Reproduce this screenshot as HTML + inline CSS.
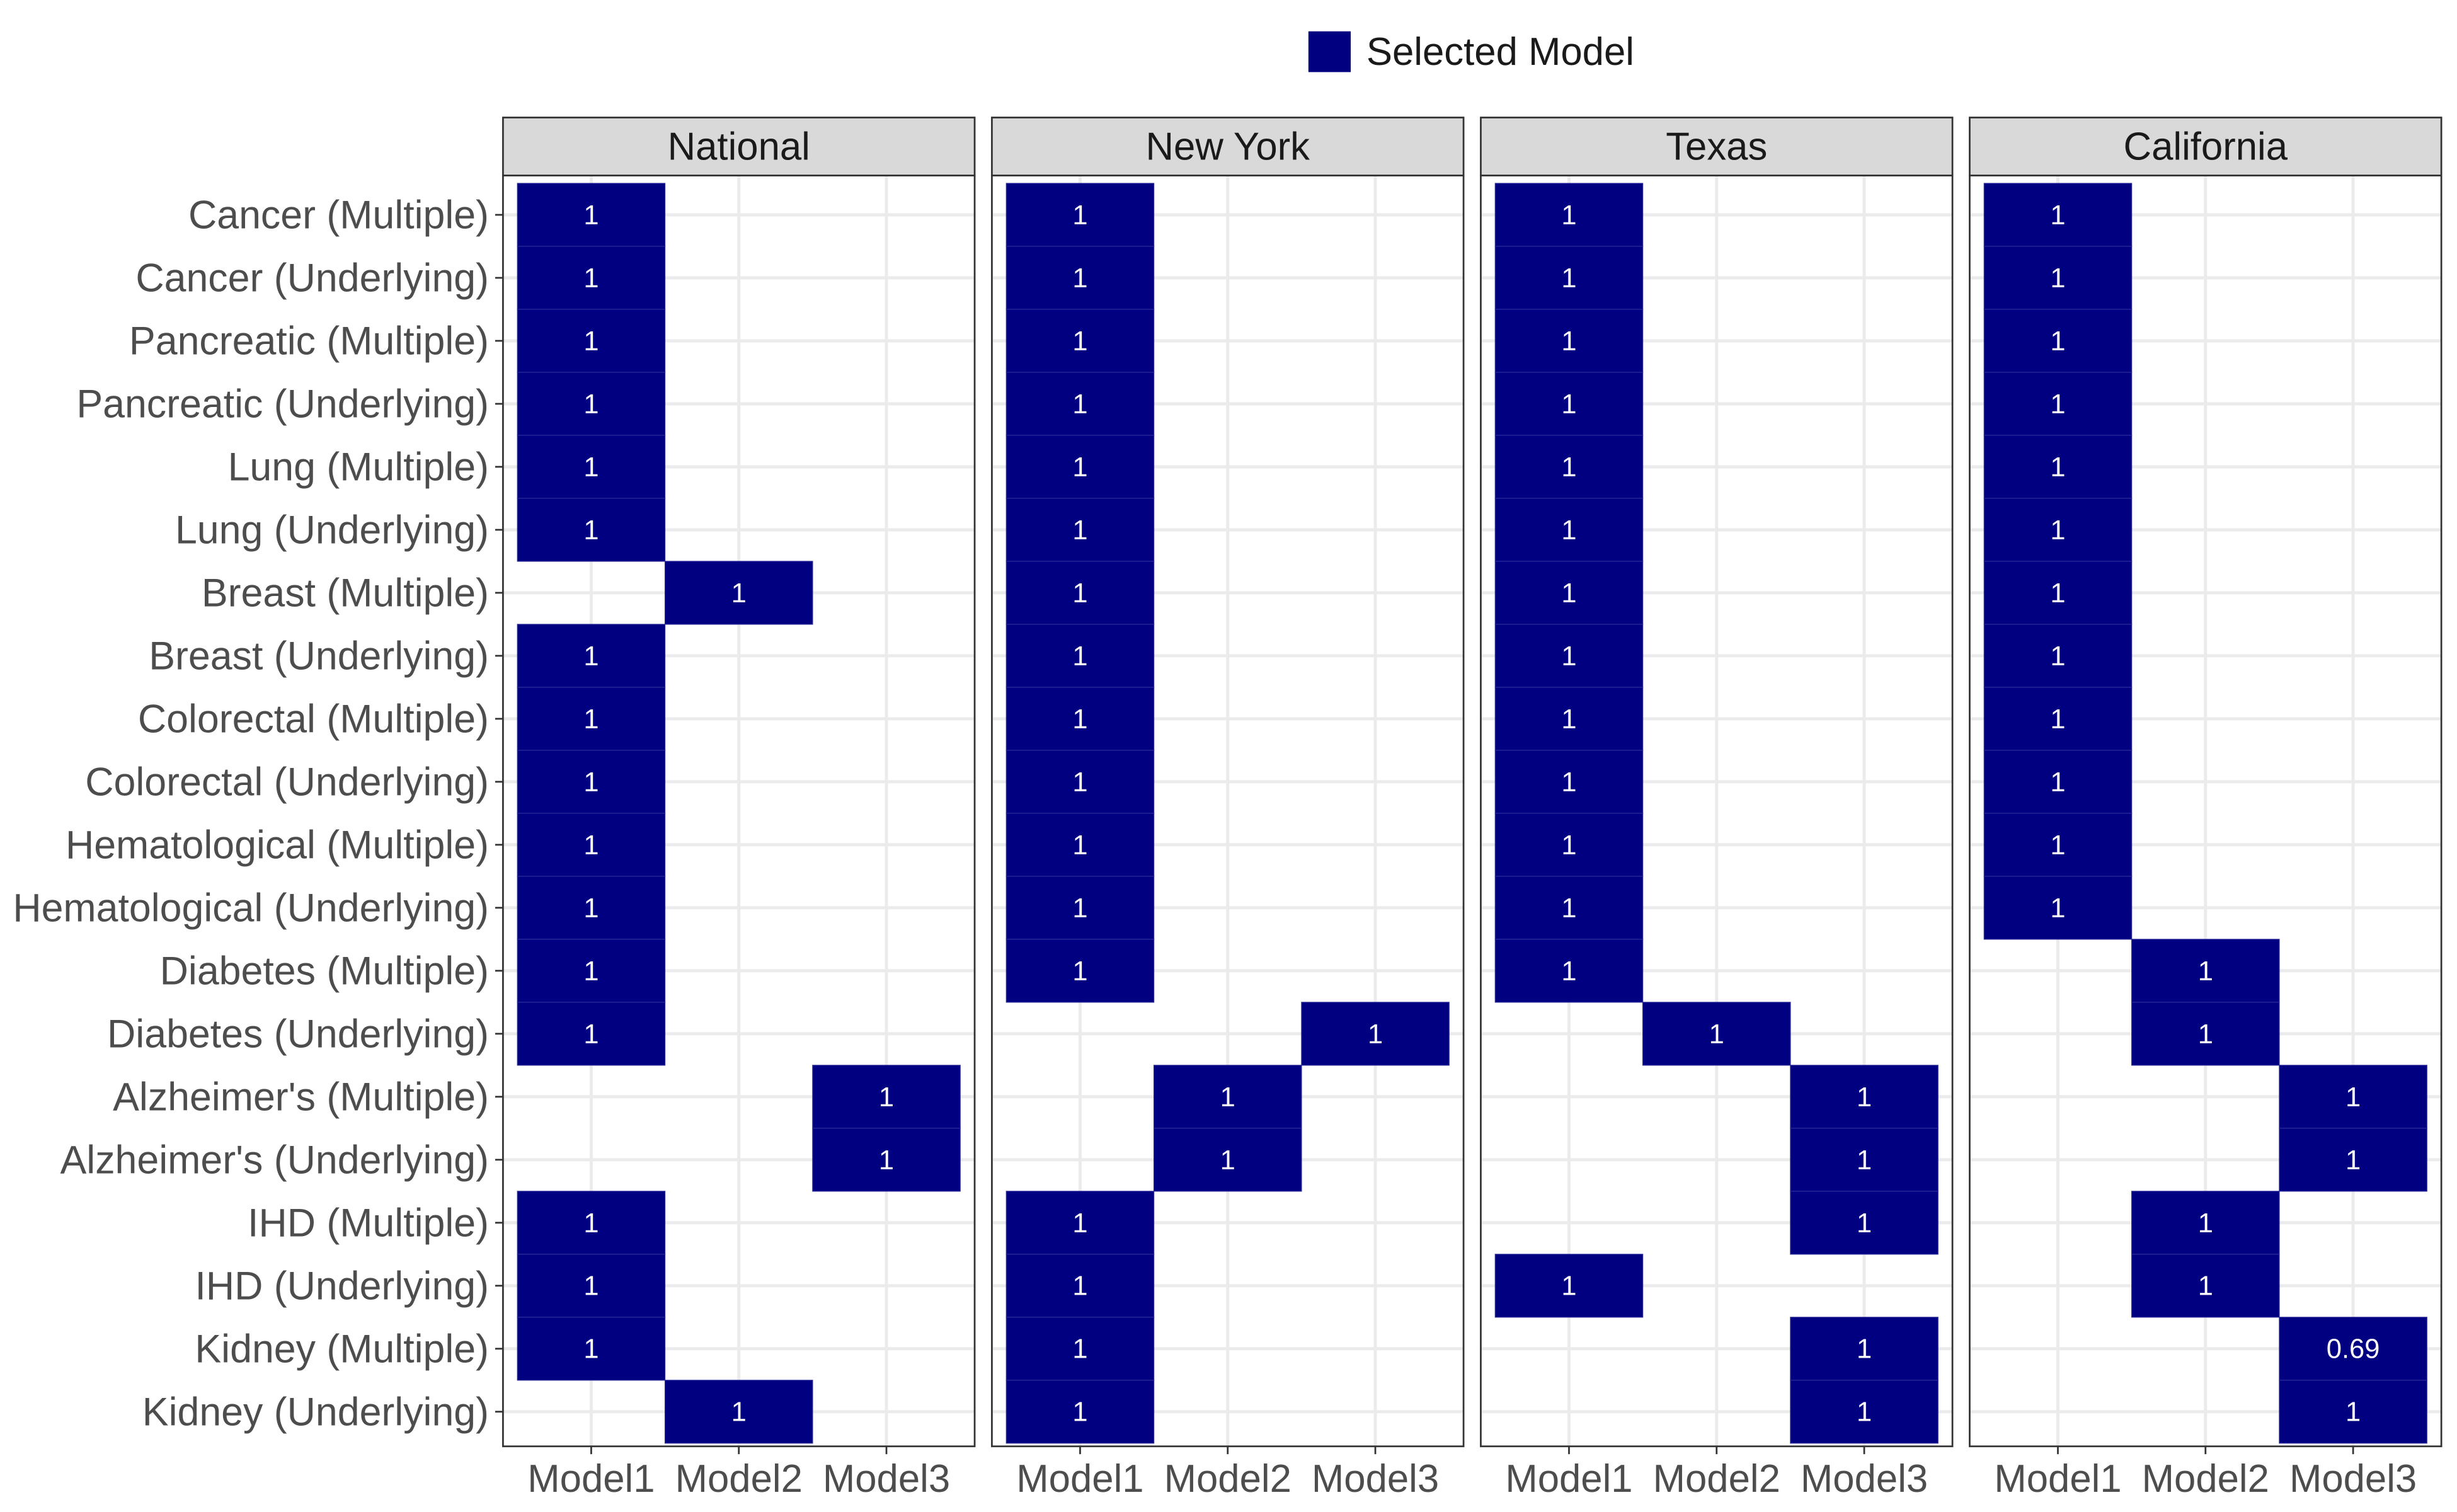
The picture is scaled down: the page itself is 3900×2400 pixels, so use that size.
<!DOCTYPE html>
<html><head><meta charset="utf-8"><style>
html,body{margin:0;padding:0;background:#fff;}
svg{display:block;font-family:"Liberation Sans",Arial,sans-serif;}
</style></head><body>
<svg id="chart" width="3900" height="2400" viewBox="0 0 1568 964.9" preserveAspectRatio="none" xmlns="http://www.w3.org/2000/svg">
<g>
<rect x="835" y="20" width="27" height="26" fill="#000080"/>
<text x="872" y="41.5" font-size="24.8" fill="#1a1a1a">Selected Model</text>
</g>
<g id="plots"></g>
</svg>
<script>
const rowLabels = ["Cancer (Multiple)","Cancer (Underlying)","Pancreatic (Multiple)","Pancreatic (Underlying)","Lung (Multiple)","Lung (Underlying)","Breast (Multiple)","Breast (Underlying)","Colorectal (Multiple)","Colorectal (Underlying)","Hematological (Multiple)","Hematological (Underlying)","Diabetes (Multiple)","Diabetes (Underlying)","Alzheimer's (Multiple)","Alzheimer's (Underlying)","IHD (Multiple)","IHD (Underlying)","Kidney (Multiple)","Kidney (Underlying)"];
const modelLabels = ["Model1","Model2","Model3"];
const panelNames = ["National","New York","Texas","California"];
const nationalModel = [1,1,1,1,1,1,2,1,1,1,1,1,1,1,3,3,1,1,1,2];
const newYorkModel = [1,1,1,1,1,1,1,1,1,1,1,1,1,3,2,2,1,1,1,1];
const texasModel = [1,1,1,1,1,1,1,1,1,1,1,1,1,2,3,3,3,1,3,3];
const californiaModel = [1,1,1,1,1,1,1,1,1,1,1,1,2,2,3,3,2,2,3,3];
const nationalValue = [1,1,1,1,1,1,1,1,1,1,1,1,1,1,1,1,1,1,1,1];
const newYorkValue = [1,1,1,1,1,1,1,1,1,1,1,1,1,1,1,1,1,1,1,1];
const texasValue = [1,1,1,1,1,1,1,1,1,1,1,1,1,1,1,1,1,1,1,1];
const californiaValue = [1,1,1,1,1,1,1,1,1,1,1,1,1,1,1,1,1,1,0.69,1];

const NS="http://www.w3.org/2000/svg";
const root=document.getElementById('plots');
function mk(tag,attrs,parent){const e=document.createElementNS(NS,tag);for(const k in attrs)e.setAttribute(k,attrs[k]);(parent||root).appendChild(e);return e;}
const panelLeft=[321,633,945,1257], panelW=301, plotTop=112, plotBot=923, stripTop=75;
const rowTop=117, rowH=40.2, colPad=9.2, colW=94.2;
function yPos(i){return rowTop+rowH*i;}
function xPos(p,j){return panelLeft[p]+colPad+colW*j;}
const models=[nationalModel,newYorkModel,texasModel,californiaModel];
const values=[nationalValue,newYorkValue,texasValue,californiaValue];

rowLabels.forEach((lab,i)=>{
  const t=mk('text',{x:312,y:yPos(i)+rowH/2+8.7,'font-size':25.2,fill:'#4d4d4d','text-anchor':'end'});
  
  
  t.textContent=lab;
  const tk=mk('line',{x1:316,x2:321,y1:yPos(i)+rowH/2,y2:yPos(i)+rowH/2,stroke:'#333','stroke-width':1.1});
  
  
});

panelNames.forEach((name,p)=>{
  const g=mk('g',{});
  
  
  const L=panelLeft[p];
  rowLabels.forEach((_,i)=>{
    const l=mk('line',{x1:L,x2:L+panelW,y1:yPos(i)+rowH/2,y2:yPos(i)+rowH/2,stroke:'#EBEBEB','stroke-width':2},g);
    
    
  });
  modelLabels.forEach((m,j)=>{
    const cx=xPos(p,j)+colW/2;
    const l=mk('line',{x1:cx,x2:cx,y1:plotTop,y2:plotBot,stroke:'#EBEBEB','stroke-width':2},g);
    
    
    const tk=mk('line',{x1:cx,x2:cx,y1:plotBot,y2:plotBot+5,stroke:'#333','stroke-width':1.1},g);
    
    
    const t=mk('text',{x:cx,y:952,'font-size':24.8,fill:'#4d4d4d','text-anchor':'middle'},g);
    
    
    t.textContent=m;
  });
  models[p].forEach((m,i)=>{
    const x=xPos(p,m-1), y=yPos(i);
    const r=mk('rect',{x:x,y:y,width:colW,height:rowH,fill:'#000080',stroke:'#2a2a9a','stroke-width':0.5},g);
    
    
    const t=mk('text',{x:x+colW/2,y:y+rowH/2+6,'font-size':17.5,fill:'#fff','text-anchor':'middle'},g);
    
    
    t.textContent=String(values[p][i]);
  });
  const b=mk('rect',{x:L,y:plotTop,width:panelW,height:plotBot-plotTop,fill:'none',stroke:'#333','stroke-width':1.1},g);
  
  
  const s=mk('rect',{x:L,y:stripTop,width:panelW,height:plotTop-stripTop,fill:'#D9D9D9',stroke:'#333','stroke-width':1.1},g);
  
  
  const st=mk('text',{x:L+panelW/2,y:102,'font-size':24.8,fill:'#1a1a1a','text-anchor':'middle'},g);
  
  
  st.textContent=name;
});
</script>
</body></html>
